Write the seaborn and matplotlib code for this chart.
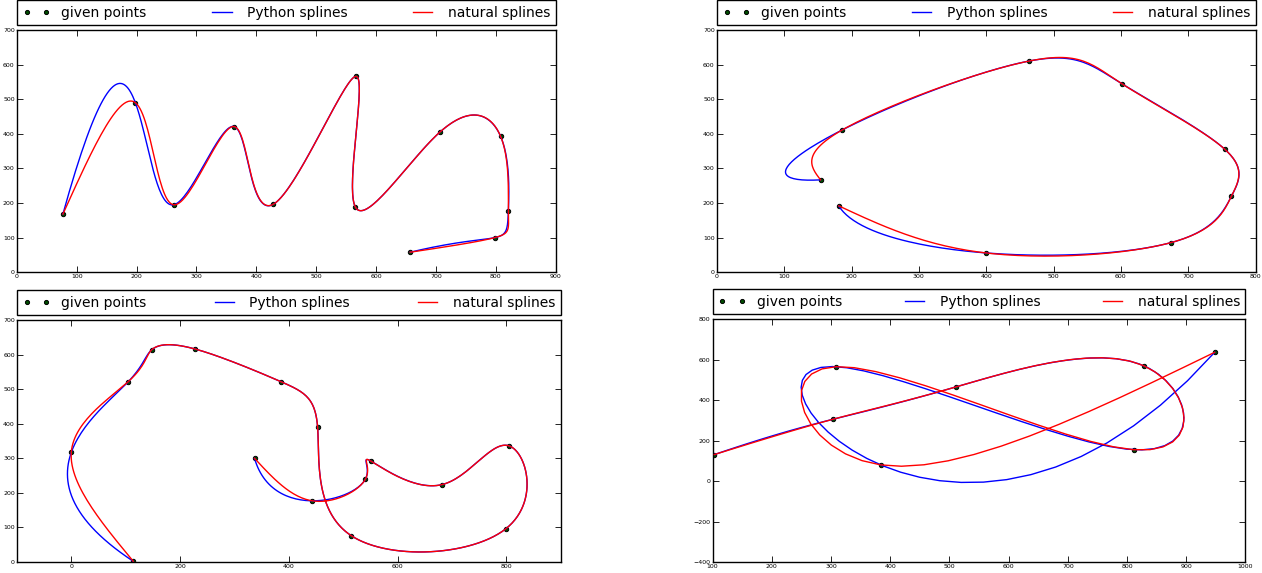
import numpy as np
import pandas as pd
import matplotlib
matplotlib.use("Agg")
import matplotlib.pyplot as plt
import seaborn as sns
from matplotlib.lines import Line2D
from matplotlib.ticker import MultipleLocator

# ---- data: given points of the four examples ----
x1 = [77, 198, 262, 363, 428, 566, 565, 706, 808, 821, 798, 657]
y1 = [168, 490, 195, 421, 196, 566, 190, 404, 393, 176, 100, 58]

x2 = [154, 186, 463, 602, 754, 764, 675, 399, 181]
y2 = [267, 411, 610, 544, 356, 219, 86, 56, 192]

x3 = [114, 0, 105, 148, 228, 385, 453, 515, 799, 805, 682, 551, 541, 443, 337]
y3 = [2, 317, 522, 614, 616, 522, 390, 76, 96, 336, 224, 292, 240, 177, 300]

x4 = [103, 303, 511, 828, 811, 309, 384, 948]
y4 = [132, 306, 466, 571, 156, 566, 81, 637]

labels = ["given points", "Python splines", "natural splines"]
xlims = [(0, 900), (0, 800), (-100, 900), (100, 1000)]
ylims = [(0, 700), (0, 700), (0, 700), (-400, 800)]
xsteps = [100, 100, 200, 100]
ysteps = [100, 100, 100, 200]


def param(n):
    # uniform parametrisation of the given points
    return np.linspace(0.0, 1.0, n)


def second_derivs(t, v, kind):
    n = len(t) - 1
    h = np.diff(t)
    A = np.zeros((n + 1, n + 1))
    b = np.zeros(n + 1)
    for i in range(1, n):
        A[i, i - 1] = h[i - 1]
        A[i, i] = 2 * (h[i - 1] + h[i])
        A[i, i + 1] = h[i]
        b[i] = 6 * ((v[i + 1] - v[i]) / h[i] - (v[i] - v[i - 1]) / h[i - 1])
    if kind == "natural":
        A[0, 0] = 1
        A[n, n] = 1
    else:  # not-a-knot (as FITPACK interpolation)
        A[0, 0], A[0, 1], A[0, 2] = h[1], -(h[0] + h[1]), h[0]
        A[n, n - 2], A[n, n - 1], A[n, n] = h[n - 1], -(h[n - 2] + h[n - 1]), h[n - 2]
    return np.linalg.solve(A, b)


def eval_spline(t, v, M, s):
    v = np.asarray(v, float)
    i = np.clip(np.searchsorted(t, s, side="right") - 1, 0, len(t) - 2)
    h = t[i + 1] - t[i]
    a = t[i + 1] - s
    c = s - t[i]
    return (M[i] * a**3 / (6 * h) + M[i + 1] * c**3 / (6 * h)
            + (v[i] / h - M[i] * h / 6) * a + (v[i + 1] / h - M[i + 1] * h / 6) * c)


def curve(x, y, kind, s):
    x = np.asarray(x, float)
    y = np.asarray(y, float)
    t = param(len(x))
    Mx = second_derivs(t, x, kind)
    My = second_derivs(t, y, kind)
    return eval_spline(t, x, Mx, s), eval_spline(t, y, My, s)


plt.rcParams["font.family"] = ["DejaVu Sans"]
fig = plt.figure(figsize=(12.62, 5.73), dpi=100)
positions = [
    [0.01331, 0.5248, 0.4270, 0.4229],
    [0.5680, 0.5248, 0.4269, 0.4229],
    [0.01339, 0.0192, 0.4309, 0.4223],
    [0.5646, 0.01867, 0.4223, 0.4241],
]
blue_n = [400, 400, 400, 100]
red_per_seg = [30, 30, 30, 12]

datasets = [(x1, y1), (x2, y2), (x3, y3), (x4, y4)]
for k, (xs, ys) in enumerate(datasets):
    ax = fig.add_axes(positions[k])
    t = param(len(xs))
    sb = np.linspace(0, 1, blue_n[k])
    sr = np.unique(np.concatenate([np.linspace(t[i], t[i + 1], red_per_seg[k] + 1)
                                   for i in range(len(t) - 1)]))
    bx, by = curve(xs, ys, "notaknot", sb)
    rx, ry = curve(xs, ys, "natural", sr)

    sns.scatterplot(x=xs, y=ys, ax=ax, color="#004d00", edgecolor="black",
                    linewidth=0.7, s=10, zorder=1, legend=False)
    dfb = pd.DataFrame({"x": bx, "y": by})
    dfr = pd.DataFrame({"x": rx, "y": ry})
    sns.lineplot(data=dfb, x="x", y="y", sort=False, estimator=None, ax=ax,
                 color="#0000ff", linewidth=1.0, zorder=2, legend=False)
    sns.lineplot(data=dfr, x="x", y="y", sort=False, estimator=None, ax=ax,
                 color="#ff0000", linewidth=1.0, zorder=3, legend=False)

    ax.set_xlim(*xlims[k])
    ax.set_ylim(*ylims[k])
    ax.xaxis.set_major_locator(MultipleLocator(xsteps[k]))
    ax.yaxis.set_major_locator(MultipleLocator(ysteps[k]))
    ax.set_xlabel("")
    ax.set_ylabel("")
    ax.tick_params(direction="in", top=True, right=True, length=4, width=0.6,
                   labelsize=4.5, pad=1.5)
    for sp in ax.spines.values():
        sp.set_linewidth(1.0)
        sp.set_color("black")

    handles = [
        Line2D([], [], linestyle="none", marker="o", markersize=3.0,
               markerfacecolor="#004d00", markeredgecolor="black", markeredgewidth=0.7),
        Line2D([], [], color="#0000ff", linewidth=1.0),
        Line2D([], [], color="#ff0000", linewidth=1.0),
    ]
    leg = ax.legend(handles, labels, bbox_to_anchor=(0.0, 1.02, 1.0, 0.102),
                    loc="lower left", ncol=3, mode="expand", borderaxespad=0.0,
                    numpoints=2, fontsize=10, handlelength=2.0, handletextpad=0.8,
                    borderpad=0.4, fancybox=False, framealpha=1, edgecolor="black")
    leg.get_frame().set_linewidth(1.0)

fig.savefig("out.png", dpi=100)
